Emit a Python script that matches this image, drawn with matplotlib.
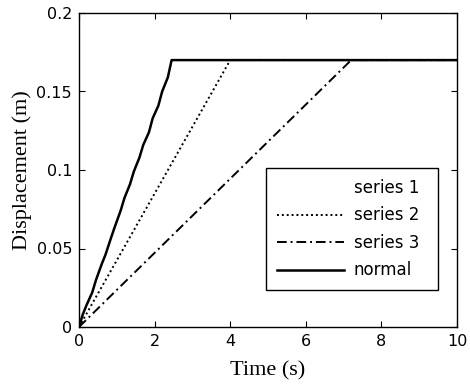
import numpy as np
import matplotlib
matplotlib.use("Agg")
from matplotlib import pyplot as plt

# data
t_normal = [0, 0.1, 0.2, 0.35, 0.45, 0.6, 0.7, 0.85, 0.95, 1.1, 1.2,
            1.35, 1.45, 1.6, 1.7, 1.85, 1.95, 2.1, 2.2, 2.35, 2.45, 10]
d_normal = [0, 0.008, 0.014, 0.022, 0.030, 0.040, 0.046, 0.057, 0.064, 0.074,
            0.082, 0.091, 0.099, 0.108, 0.116, 0.124, 0.133, 0.141, 0.150,
            0.159, 0.170, 0.170]
t_series2 = [0, 4.0, 10]
d_series2 = [0, 0.170, 0.170]
t_series3 = [0, 7.2, 10]
d_series3 = [0, 0.170, 0.170]

plt.rcParams['font.family'] = ['DejaVu Sans']

fig = plt.figure(figsize=(4.70, 3.87), dpi=100)
ax = fig.add_axes([79/470, 60/387, 378/470, 314/387])

ax.plot(t_normal, d_normal, color='white', lw=1.2, label='series 1')
ax.plot(t_series2, d_series2, color='black', lw=1.4, ls=(0, (1, 1.5)), label='series 2')
ax.plot(t_series3, d_series3, color='black', lw=1.4, ls=(0, (5, 2, 1, 2)), label='series 3')
ax.plot(t_normal, d_normal, color='black', lw=1.8, label='normal')

ax.set_xlim(0, 10)
ax.set_ylim(0, 0.2)
ax.set_xticks([0, 2, 4, 6, 8, 10])
ax.set_yticks([0, 0.05, 0.1, 0.15, 0.2])
ax.set_yticklabels(['0', '0.05', '0.1', '0.15', '0.2'])
ax.tick_params(direction='in', top=True, right=True, length=4, labelsize=11.5, pad=5)
for s in ax.spines.values():
    s.set_linewidth(1.0)

ax.set_xlabel('Time (s)', family='Liberation Serif', fontsize=16, labelpad=9)
ax.set_ylabel('Displacement (m)', family='Liberation Serif', fontsize=16, labelpad=3)

leg = ax.legend(loc='upper left', bbox_to_anchor=(0.495, 0.506, 0.455, 0.0),
                mode='expand', fancybox=False, framealpha=1, edgecolor='black',
                fontsize=12, handlelength=4.0, handletextpad=0.6,
                labelspacing=0.57, borderpad=0.65, borderaxespad=0)
leg.get_frame().set_linewidth(1.0)

fig.savefig('out.png', dpi=100)
